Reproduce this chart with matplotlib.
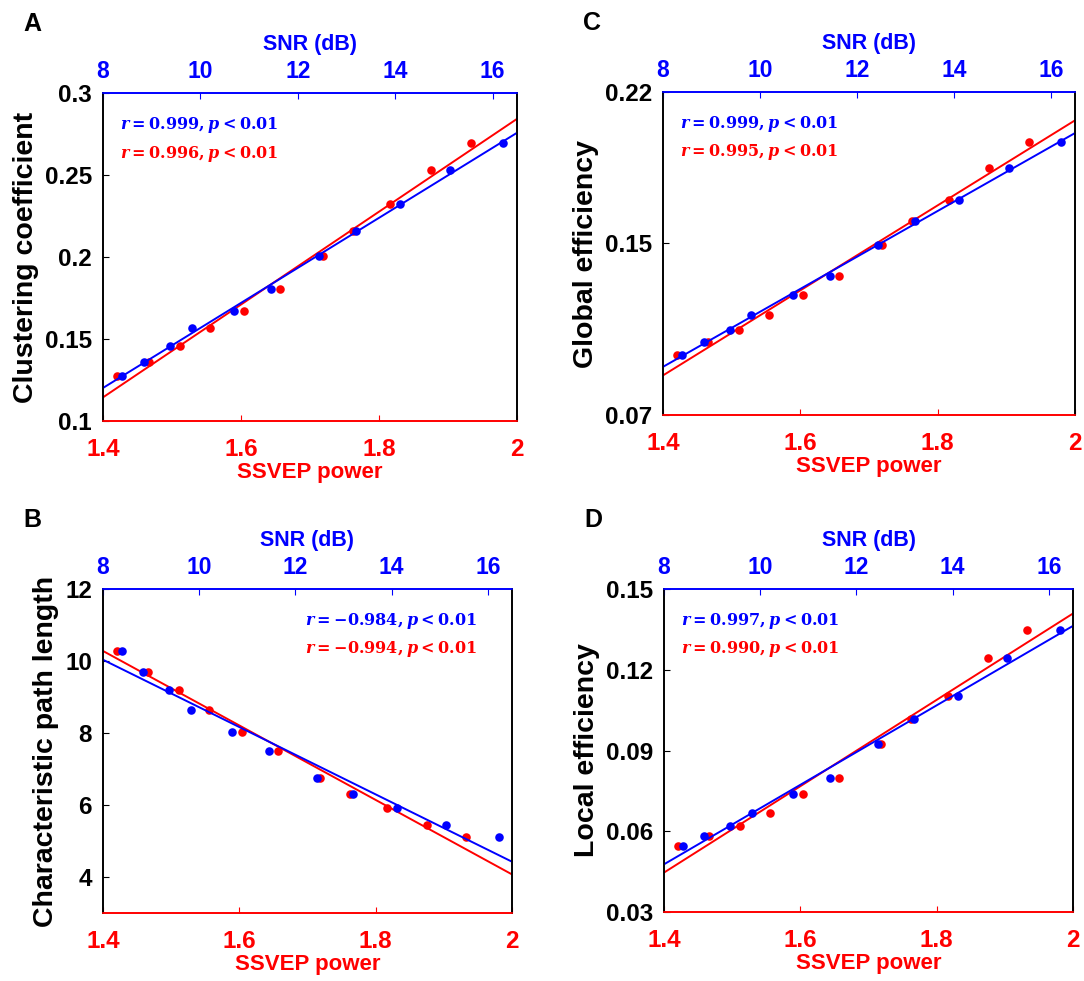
import matplotlib
matplotlib.use("Agg")
import matplotlib.pyplot as plt
import numpy as np

plt.rcParams['font.family'] = 'Liberation Sans'
plt.rcParams['font.weight'] = 'bold'
plt.rcParams['axes.labelweight'] = 'bold'
plt.rcParams['mathtext.fontset'] = 'custom'
plt.rcParams['mathtext.rm'] = 'DejaVu Serif:bold'
plt.rcParams['mathtext.it'] = 'DejaVu Serif:italic:bold'

# x values shared by all four panels (11 conditions)
snr = [8.40, 8.84, 9.38, 9.82, 10.69, 11.45, 12.44, 13.20, 14.10, 15.13, 16.22]
power = [1.421, 1.466, 1.511, 1.555, 1.604, 1.656, 1.719, 1.762, 1.816, 1.875, 1.933]

# network metrics (y values)
clustering = [0.1275, 0.1360, 0.1456, 0.1566, 0.1670, 0.1803, 0.2008, 0.2156, 0.2326, 0.2528, 0.2696]
path_length = [10.29, 9.69, 9.20, 8.64, 8.02, 7.49, 6.75, 6.30, 5.93, 5.45, 5.12]
global_eff = [0.0978, 0.1040, 0.1097, 0.1165, 0.1255, 0.1345, 0.1488, 0.1599, 0.1700, 0.1848, 0.1968]
local_eff = [0.0545, 0.0584, 0.0620, 0.0666, 0.0740, 0.0798, 0.0926, 0.1018, 0.1104, 0.1242, 0.1349]

# panel letter, ylabel, values, ylim, yticks, yticklabels, r text (snr, power), text side
panels = [
    ("A", "Clustering coefficient", clustering, (0.1, 0.3), [0.1, 0.15, 0.2, 0.25, 0.3],
     ["0.1", "0.15", "0.2", "0.25", "0.3"], ("0.999", "0.996"), "left"),
    ("C", "Global efficiency", global_eff, (0.07, 0.22), [0.07, 0.15, 0.22],
     ["0.07", "0.15", "0.22"], ("0.999", "0.995"), "left"),
    ("B", "Characteristic path length", path_length, (3, 12), [4, 6, 8, 10, 12],
     ["4", "6", "8", "10", "12"], ("{-}0.984", "{-}0.994"), "right"),
    ("D", "Local efficiency", local_eff, (0.03, 0.15), [0.03, 0.06, 0.09, 0.12, 0.15],
     ["0.03", "0.06", "0.09", "0.12", "0.15"], ("0.997", "0.990"), "left"),
]

# axes rectangles in pixels: left, top, right, bottom
W, H = 1084, 981
boxes = [(103, 93, 517, 421), (663, 92, 1075, 415), (103, 589, 512, 913), (664, 589, 1073, 912)]

fig = plt.figure(figsize=(W / 100, H / 100), dpi=100)

for (letter, ylab, vals, ylim, yt, ytl, rtxt, side), (l, t, r, b) in zip(panels, boxes):
    ax = fig.add_axes([l / W, 1 - b / H, (r - l) / W, (b - t) / H])
    ax2 = ax.twiny()

    # red: SSVEP power on bottom axis
    ax.scatter(power, vals, s=38, color="red", zorder=3, linewidths=0)
    k, c = np.polyfit(power, vals, 1)
    xx = np.array([1.4, 2.0])
    ax.plot(xx, k * xx + c, color="red", lw=1.4)
    ax.set_xlim(1.4, 2.0)
    ax.set_ylim(*ylim)
    ax.set_xticks([1.4, 1.6, 1.8, 2.0])
    ax.set_xticklabels(["1.4", "1.6", "1.8", "2"])
    ax.set_yticks(yt)
    ax.set_yticklabels(ytl)

    # blue: SNR on top axis
    ax2.scatter(snr, vals, s=38, color="blue", zorder=4, linewidths=0)
    k2, c2 = np.polyfit(snr, vals, 1)
    xx2 = np.array([8, 16.5])
    ax2.plot(xx2, k2 * xx2 + c2, color="blue", lw=1.4)
    ax2.set_xlim(8, 16.5)
    ax2.set_xticks([8, 10, 12, 14, 16])

    ax.tick_params(axis="x", direction="in", colors="red", labelsize=17.5, length=4, pad=12)
    ax.tick_params(axis="y", direction="in", colors="black", labelsize=17.5, length=4, pad=8)
    ax2.tick_params(axis="x", direction="in", colors="blue", labelsize=16.5, length=4, pad=7.5)
    for a in (ax, ax2):
        a.spines["left"].set_color("black")
        a.spines["right"].set_color("black")
        a.spines["top"].set_color("blue")
        a.spines["bottom"].set_color("red")
        for s in a.spines.values():
            s.set_linewidth(1.2)

    ax.set_xlabel("SSVEP power", color="red", fontsize=16, labelpad=1)
    ax2.set_xlabel("SNR (dB)", color="blue", fontsize=15.5, labelpad=7)
    ax.set_ylabel(ylab, fontsize=20.5, labelpad=4)

    if side == "left":
        tx, ha = 0.042, "left"
    else:
        tx, ha = 0.913, "right"
    txt = r"$r = %s, p < 0.01$"
    ax.text(tx, 0.902, txt % rtxt[0], color="blue", fontsize=11.5,
            ha=ha, va="center", transform=ax.transAxes)
    ax.text(tx, 0.815, txt % rtxt[1], color="red", fontsize=11.5,
            ha=ha, va="center", transform=ax.transAxes)

    fig.text((l - 71) / W, 1 - (t - 69) / H, letter, fontsize=18, ha="center", va="center")

fig.savefig("out.png", dpi=100)
